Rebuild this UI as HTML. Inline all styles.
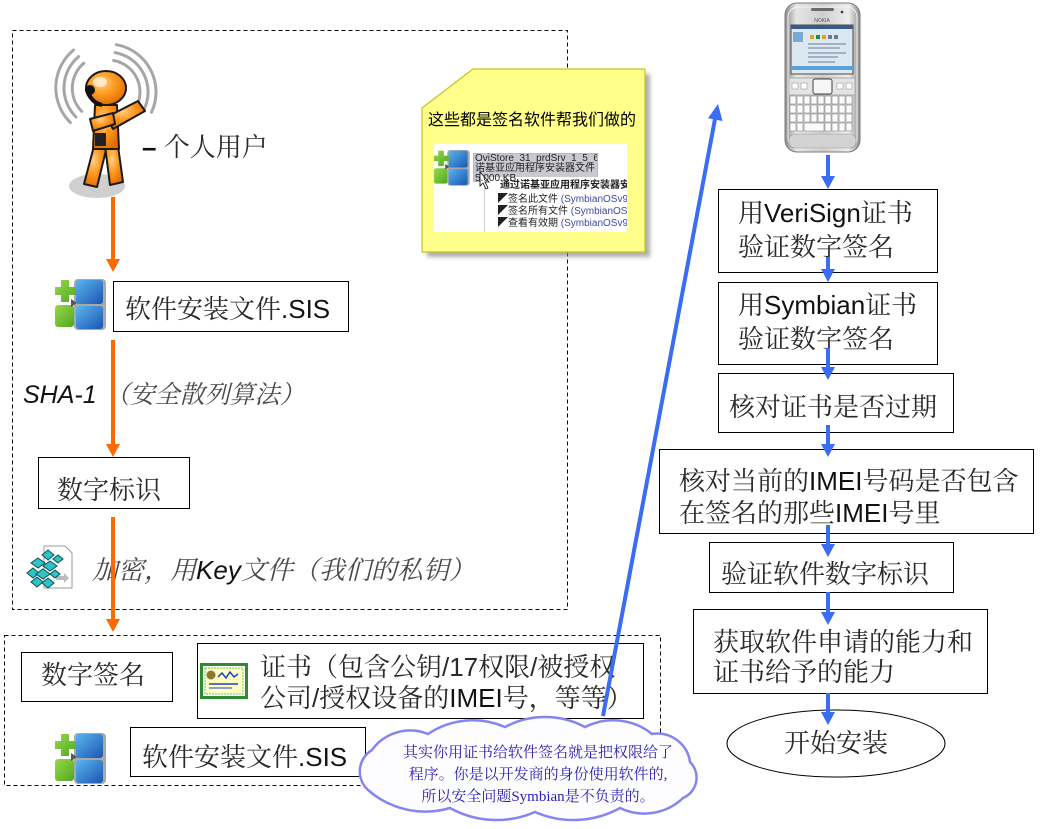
<!DOCTYPE html>
<html>
<head>
<meta charset="utf-8">
<style>
  html,body{margin:0;padding:0;background:#fff;}
  body{width:1041px;height:829px;position:relative;overflow:hidden;}
  .t{position:absolute;white-space:nowrap;font-family:"Liberation Sans","Noto Serif CJK SC",sans-serif;font-size:26px;line-height:30px;color:#2a2a2a;}
  .it{font-style:italic;color:#4a4a4a;}
  svg{position:absolute;left:0;top:0;}
  .s{position:absolute;white-space:nowrap;font-family:"Liberation Sans","Noto Sans CJK SC",sans-serif;font-size:10px;line-height:11px;color:#222;}
  .sym{color:#3a4aa8;}
</style>
</head>
<body>

<!-- BASE SHAPES -->
<svg width="1041" height="829" viewBox="0 0 1041 829">
  <defs>
    <linearGradient id="silver" x1="0" y1="0" x2="1" y2="0">
      <stop offset="0" stop-color="#8c8c8c"/>
      <stop offset="0.15" stop-color="#e6e6e6"/>
      <stop offset="0.5" stop-color="#cfcfcf"/>
      <stop offset="0.85" stop-color="#ededed"/>
      <stop offset="1" stop-color="#8c8c8c"/>
    </linearGradient>
    <linearGradient id="blueg" x1="0" y1="0" x2="1" y2="1">
      <stop offset="0" stop-color="#5cb4f0"/>
      <stop offset="1" stop-color="#1a56b0"/>
    </linearGradient>
    <linearGradient id="greeng" x1="0" y1="0" x2="1" y2="1">
      <stop offset="0" stop-color="#9ad84a"/>
      <stop offset="1" stop-color="#4ea820"/>
    </linearGradient>
    <radialGradient id="orng" cx="0.4" cy="0.35" r="0.7">
      <stop offset="0" stop-color="#ffd08a"/>
      <stop offset="0.45" stop-color="#ff9c22"/>
      <stop offset="1" stop-color="#e06a00"/>
    </radialGradient>
    <g id="sisicon">
      <rect x="19" y="0" width="32" height="51" rx="4" fill="#a9a9a9"/>
      <rect x="21" y="1" width="27" height="24" rx="3" fill="url(#blueg)"/>
      <rect x="21" y="27" width="27" height="23" rx="3" fill="url(#blueg)"/>
      <rect x="0" y="26" width="19" height="22" rx="3" fill="url(#greeng)"/>
      <path d="M6,1 h8 v7 h7 v8 h-7 v7 h-8 v-7 h-6 v-8 h6 z" fill="url(#greeng)"/>
      <path d="M16,20 l6,4 l-6,4 z" fill="#555"/>
    </g>
  </defs>

  <!-- dashed containers -->
  <rect x="12.5" y="30.5" width="555" height="579" fill="none" stroke="#000" stroke-width="1" stroke-dasharray="4 3"/>
  <rect x="4.5" y="635.5" width="656" height="150" fill="none" stroke="#000" stroke-width="1" stroke-dasharray="4 3"/>

  <!-- person -->
  <ellipse cx="97" cy="186" rx="28" ry="12" fill="#cfcfcf"/>
  <g fill="none" stroke="#a6a6a6" stroke-width="3" stroke-linecap="round">
    <path d="M83.8,63.2 A33,33 0 0,0 81.7,111.3"/>
    <path d="M78.6,56.6 A41,41 0 0,0 76.0,117.0"/>
    <path d="M73.4,50.1 A49,49 0 0,0 70.4,122.6"/>
    <path d="M113.6,60.5 A32,32 0 0,1 137.0,105.5"/>
    <path d="M115.0,52.6 A40,40 0 0,1 144.3,108.9"/>
    <path d="M116.3,44.7 A48,48 0 0,1 151.5,112.3"/>
  </g>
  <g stroke="#1a1a1a" stroke-width="2" stroke-linejoin="round" fill="url(#orng)">
    <path d="M94,146 L107,146 L97,187 L84,184 Z"/>
    <path d="M105,146 L118,146 L123,182 L110,185 Z"/>
    <path d="M95,105 L117,105 L119,149 L93,149 Z"/>
    <path d="M107,117 L138,101 L145,111 L113,129 Z"/>
    <path d="M90,119 L113,113 L115,124 L93,131 Z"/>
    <ellipse cx="106" cy="88" rx="20" ry="17"/>
  </g>
  <ellipse cx="100" cy="82" rx="7" ry="5" fill="#fff3d8" opacity="0.8"/>
  <path d="M88,90 q2,12 14,15" stroke="#111" stroke-width="4" fill="none"/>
  <circle cx="90" cy="90" r="5" fill="#111"/>
  <rect x="95" y="133" width="11" height="13" fill="#222"/>

  <!-- sis icons -->
  <use href="#sisicon" x="55" y="279"/>
  <use href="#sisicon" x="55" y="733"/>

  <!-- boxes left -->
  <g fill="#fff" stroke="#000" stroke-width="1">
    <rect x="113.5" y="281.5" width="235" height="50"/>
    <rect x="38.5" y="457.5" width="151" height="51"/>
    <rect x="21.5" y="652.5" width="151" height="49"/>
    <rect x="197.5" y="643.5" width="446" height="75"/>
    <rect x="130.5" y="727.5" width="235" height="49"/>
  </g>

  <!-- key / registry icon -->
  <path d="M44,546 L65,546 L72,553 L72,588 L44,588 Z" fill="#fff" stroke="#9a9a9a"/>
  <path d="M56,576 l8,0 l0,-3 l5,5 l-5,5 l0,-3 l-8,0 z" fill="#bbb"/>
  <g fill="#2ec4c6" stroke="#0b4f55" stroke-width="1">
    <path d="M48,550 l6,5 l-6,5 l-6,-5 z"/>
    <path d="M58,555 l5,4 l-5,4 l-5,-4 z"/>
    <path d="M38,558 l7,5 l-7,5 l-7,-5 z"/>
    <path d="M50,561 l7,5 l-7,5 l-7,-5 z"/>
    <path d="M33,568 l6,5 l-6,5 l-6,-5 z"/>
    <path d="M43,569 l7,5 l-7,5 l-7,-5 z"/>
    <path d="M55,570 l5,4 l-5,4 l-5,-4 z"/>
    <path d="M37,577 l6,5 l-6,5 l-6,-5 z"/>
    <path d="M48,578 l6,5 l-6,5 l-6,-5 z"/>
  </g>

  <!-- cert icon -->
  <rect x="200" y="663" width="48" height="36" fill="#2e8b2e"/>
  <rect x="203" y="666" width="42" height="30" fill="#fff"/>
  <rect x="205" y="668" width="38" height="26" fill="#ffffc4" stroke="#6cbf6c" stroke-dasharray="2 1"/>
  <circle cx="211" cy="675" r="4.5" fill="#8a7a30"/>
  <polyline points="218,677 222,673 226,678 230,672 234,677 238,674" fill="none" stroke="#2040c0" stroke-width="1.5"/>
  <line x1="209" y1="684" x2="238" y2="684" stroke="#2040c0" stroke-width="1.5"/>
  <line x1="209" y1="688" x2="232" y2="688" stroke="#2040c0" stroke-width="1"/>

  <!-- phone -->
  <rect x="785" y="3" width="75" height="149" rx="12" fill="url(#silver)" stroke="#7a7a7a"/>
  <rect x="788" y="7" width="69" height="141" rx="10" fill="none" stroke="#f2f2f2"/>
  <rect x="811" y="8" width="23" height="3" rx="1.5" fill="#6a6a6a"/>
  <circle cx="842" cy="12" r="1.3" fill="#333"/>
  <text x="822" y="22" font-family="Liberation Sans" font-size="5" fill="#555" text-anchor="middle">NOKIA</text>
  <rect x="791" y="25" width="62" height="49" fill="#dbe8f2" stroke="#4a4a4a"/>
  <rect x="791" y="25" width="62" height="4" fill="#3a5a8a"/>
  <rect x="793" y="32" width="10" height="10" fill="#7aa8d0"/>
  <g fill="#e0a020"><rect x="810" y="35" width="4" height="4"/><rect x="822" y="35" width="4" height="4"/></g>
  <g fill="#208a40"><rect x="816" y="35" width="4" height="4"/></g>
  <g fill="#6a7a90"><rect x="828" y="35" width="4" height="4"/><rect x="834" y="35" width="4" height="4"/></g>
  <g stroke="#6a7a90" stroke-width="1"><line x1="808" y1="44" x2="846" y2="44"/><line x1="808" y1="48" x2="840" y2="48"/><line x1="808" y1="53" x2="846" y2="53"/><line x1="808" y1="57" x2="838" y2="57"/><line x1="808" y1="62" x2="835" y2="62"/></g>
  <rect x="791" y="66" width="62" height="4" fill="#5aa0e0"/>
  <rect x="789" y="78" width="66" height="17" fill="#e4e4e4" stroke="#aaa"/>
  <rect x="813" y="79" width="19" height="15" rx="2" fill="#f6f6f6" stroke="#444"/>
  <g fill="#fff" stroke="#9a9a9a" stroke-width="0.6">
    <rect x="792" y="83" width="6" height="6"/><rect x="801" y="83" width="6" height="6"/>
    <rect x="837" y="83" width="6" height="6"/><rect x="846" y="83" width="6" height="6"/>
  </g>
  <g fill="#fbfbfb" stroke="#8a8a8a" stroke-width="0.6">
    <rect x="790" y="96" width="6" height="8"/><rect x="797" y="96" width="6" height="8"/><rect x="804" y="96" width="6" height="8"/><rect x="811" y="96" width="6" height="8"/><rect x="818" y="96" width="6" height="8"/><rect x="825" y="96" width="6" height="8"/><rect x="832" y="96" width="6" height="8"/><rect x="839" y="96" width="6" height="8"/><rect x="846" y="96" width="6" height="8"/>
    <rect x="790" y="105" width="6" height="8"/><rect x="797" y="105" width="6" height="8"/><rect x="804" y="105" width="6" height="8"/><rect x="811" y="105" width="6" height="8"/><rect x="818" y="105" width="6" height="8"/><rect x="825" y="105" width="6" height="8"/><rect x="832" y="105" width="6" height="8"/><rect x="839" y="105" width="6" height="8"/><rect x="846" y="105" width="6" height="8"/>
    <rect x="790" y="114" width="6" height="8"/><rect x="797" y="114" width="6" height="8"/><rect x="804" y="114" width="6" height="8"/><rect x="811" y="114" width="6" height="8"/><rect x="818" y="114" width="6" height="8"/><rect x="825" y="114" width="6" height="8"/><rect x="832" y="114" width="6" height="8"/><rect x="839" y="114" width="6" height="8"/><rect x="846" y="114" width="6" height="8"/>
    <rect x="790" y="123" width="6" height="8"/><rect x="797" y="123" width="6" height="8"/><rect x="804" y="123" width="20" height="8"/><rect x="825" y="123" width="6" height="8"/><rect x="832" y="123" width="6" height="8"/><rect x="839" y="123" width="6" height="8"/><rect x="846" y="123" width="6" height="8"/>
  </g>
  <rect x="789" y="134" width="67" height="14" rx="6" fill="#d2d2d2" stroke="#9a9a9a" stroke-width="0.6"/>

  <!-- boxes right -->
  <g fill="#fff" stroke="#000" stroke-width="1">
    <rect x="718.5" y="189.5" width="219" height="83"/>
    <rect x="718.5" y="282.5" width="219" height="82"/>
    <rect x="718.5" y="373.5" width="235" height="59"/>
    <rect x="659.5" y="449.5" width="374" height="84"/>
    <rect x="709.5" y="542.5" width="244" height="50"/>
    <rect x="693.5" y="609.5" width="294" height="84"/>
    <ellipse cx="836" cy="743.5" rx="109" ry="33.5"/>
  </g>
</svg>

<!-- LEFT TEXT -->
<div class="t" style="left:142px;top:132px;"><b style="color:#111">–</b> 个人用户</div>
<div class="t" style="left:125px;top:294px;">软件安装文件<span style="color:#111">.SIS</span></div>
<div class="t it" style="left:23px;top:380px;font-size:25px;"><span style="color:#111">SHA-1</span><span style="font-size:25px;margin-left:8px;">（安全散列算法）</span></div>
<div class="t" style="left:57px;top:475px;">数字标识</div>
<div class="t it" style="left:92px;top:555px;">加密，用<span style="color:#111">Key</span>文件（我们的私钥）</div>
<div class="t" style="left:41px;top:660px;">数字签名</div>
<div class="t" style="left:260px;top:652px;line-height:31px;">证书（包含公钥/17权限/被授权<br>公司/授权设备的<span style="color:#111">IMEI</span>号，等等）</div>
<div class="t" style="left:142px;top:742px;">软件安装文件<span style="color:#111">.SIS</span></div>

<!-- RIGHT TEXT -->
<div class="t" style="left:738px;top:196px;line-height:34px;">用<span style="color:#111">VeriSign</span>证书<br>验证数字签名</div>
<div class="t" style="left:738px;top:288px;line-height:34px;">用<span style="color:#111">Symbian</span>证书<br>验证数字签名</div>
<div class="t" style="left:729px;top:392px;">核对证书是否过期</div>
<div class="t" style="left:679px;top:465px;line-height:32px;">核对当前的<span style="color:#111">IMEI</span>号码是否包含<br>在签名的那些<span style="color:#111">IMEI</span>号里</div>
<div class="t" style="left:721px;top:559px;">验证软件数字标识</div>
<div class="t" style="left:713px;top:627px;line-height:30px;">获取软件申请的能力和<br>证书给予的能力</div>
<div class="t" style="left:736px;top:728px;width:200px;text-align:center;">开始安装</div>

<!-- ARROWS / CLOUD / NOTE -->
<svg width="1041" height="829" viewBox="0 0 1041 829">
  <g stroke="#ff6a00" stroke-width="4">
    <line x1="113" y1="197" x2="113" y2="262"/>
    <line x1="113" y1="340" x2="113" y2="446"/>
    <line x1="113" y1="517" x2="113" y2="621"/>
  </g>
  <g fill="#ff6a00">
    <path d="M106,259 L120,259 L113,272 Z"/>
    <path d="M106,444 L120,444 L113,457 Z"/>
    <path d="M106,619 L120,619 L113,632 Z"/>
  </g>
  <g stroke="#3a6cf4" stroke-width="4">
    <line x1="828" y1="155" x2="828" y2="178"/>
    <line x1="828" y1="257" x2="828" y2="271"/>
    <line x1="828" y1="348" x2="828" y2="369"/>
    <line x1="828" y1="425" x2="828" y2="446"/>
    <line x1="828" y1="525" x2="828" y2="546"/>
    <line x1="828" y1="592" x2="828" y2="614"/>
    <line x1="828" y1="693" x2="828" y2="714"/>
    <line x1="603" y1="716" x2="715" y2="119"/>
  </g>
  <g fill="#3a6cf4">
    <path d="M821,176 L835,176 L828,189 Z"/>
    <path d="M821,269 L835,269 L828,282 Z"/>
    <path d="M821,367 L835,367 L828,380 Z"/>
    <path d="M821,444 L835,444 L828,457 Z"/>
    <path d="M821,544 L835,544 L828,557 Z"/>
    <path d="M821,612 L835,612 L828,625 Z"/>
    <path d="M821,712 L835,712 L828,725 Z"/>
    <path d="M718,104 L722.5,121 L708,118.3 Z"/>
  </g>

  <!-- cloud -->
  <path d="M368,790 A25,25 0 0,1 372,750 A47,47 0 0,1 428,734 A80,80 0 0,1 505,727 A85,85 0 0,1 585,727 A62,62 0 0,1 652,734 A33,33 0 0,1 690,762 A22,22 0 0,1 683,798 A56,56 0 0,1 620,808 A96,96 0 0,1 535,812 A96,96 0 0,1 450,808 A87,87 0 0,1 368,790 Z" fill="#fdfdff" stroke="#8585ee" stroke-width="2.5"/>

  <!-- sticky note -->
  <defs><filter id="blur" x="-10%" y="-10%" width="120%" height="120%"><feGaussianBlur stdDeviation="2"/></filter></defs>
  <polygon points="427,113 478,74 650,74 650,257 427,257" fill="#8a8a8a" filter="url(#blur)" opacity="0.7"/>
  <polygon points="422,108 473,69 645,69 645,252 422,252" fill="#ffff8a" stroke="#c4c41e" stroke-width="1.2"/>
  <rect x="434" y="144" width="193" height="88" fill="#fff"/>
  <use href="#sisicon" transform="translate(434,150) scale(0.7)"/>
  <rect x="473.5" y="153.5" width="124" height="28" fill="#c9c9d2" stroke="#8a8a9a" stroke-dasharray="1 1"/>
  <rect x="484" y="177" width="143" height="55" fill="#fff"/>
  <line x1="484.5" y1="177" x2="484.5" y2="232" stroke="#d0d0d0"/>
  <path d="M480,172 L480,186 L483,183 L486,189 L488,188 L485,182 L489,182 Z" fill="#fff" stroke="#000" stroke-width="0.8"/>
</svg>

<!-- sticky texts -->
<div class="t" style="left:428px;top:111px;font-size:16px;line-height:20px;font-family:'Liberation Sans','Noto Sans CJK SC',sans-serif;color:#000;">这些都是签名软件帮我们做的</div>
<div style="position:absolute;left:474px;top:153px;width:123px;height:28px;overflow:hidden;">
  <div class="s" style="left:1px;top:0px;">OviStore_31_prdSrv_1_5_611...</div>
  <div class="s" style="left:1px;top:10px;">诺基亚应用程序安装器文件</div>
  <div class="s" style="left:1px;top:20px;">5,000 KB</div>
</div>
<div style="position:absolute;left:485px;top:178px;width:142px;height:54px;overflow:hidden;">
  <div class="s" style="left:15px;top:2px;font-weight:bold;">通过诺基亚应用程序安装器安</div>
  <div class="s" style="left:13px;top:16px;">◤签名此文件 <span class="sym">(SymbianOSv9)</span></div>
  <div class="s" style="left:13px;top:28px;">◤签名所有文件 <span class="sym">(SymbianOSv9)</span></div>
  <div class="s" style="left:13px;top:40px;">◤查看有效期 <span class="sym">(SymbianOSv9)</span></div>
</div>

<!-- cloud text -->
<div class="t" style="left:388px;top:742px;width:300px;text-align:center;font-size:15px;line-height:22px;color:#2a1fb0;font-family:'Liberation Serif','Noto Serif CJK SC',serif;">其实你用证书给软件签名就是把权限给了<br>程序。你是以开发商的身份使用软件的,<br>所以安全问题Symbian是不负责的。</div>

</body>
</html>
